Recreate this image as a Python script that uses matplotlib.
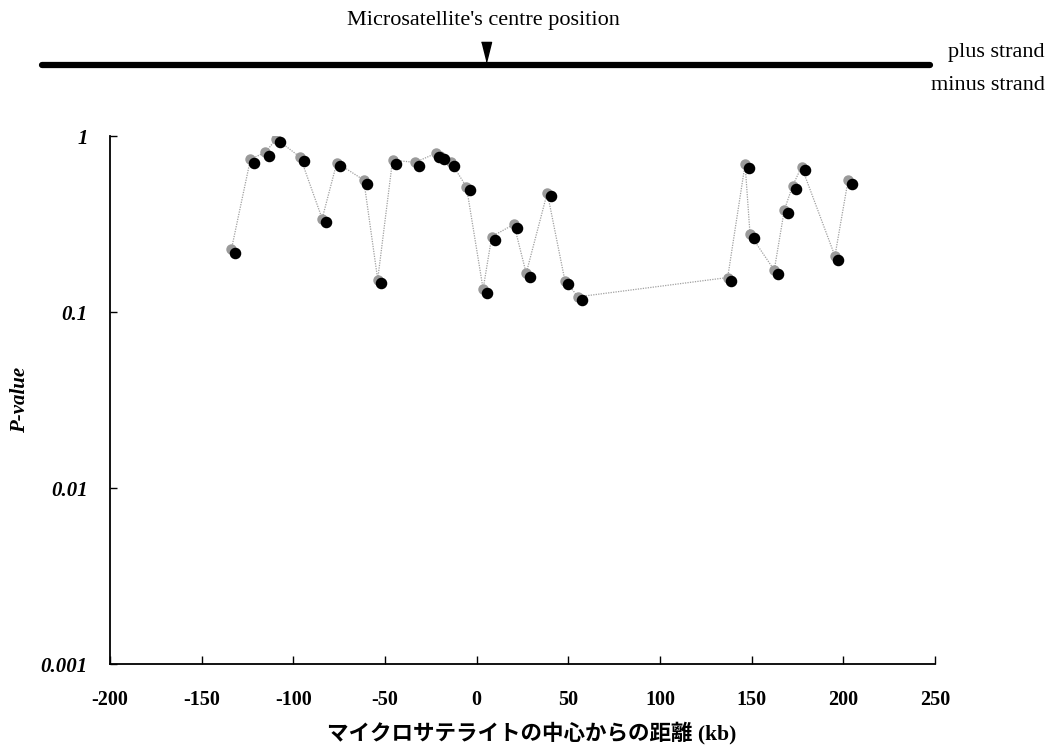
import matplotlib.pyplot as plt
import matplotlib.transforms as mtransforms
from matplotlib.lines import Line2D

# distance from microsatellite centre (kb) and P-values
distance_kb = [
    -133.8, -123.4, -115.3, -109.3, -96.2, -84.3, -76.3, -61.6, -54.0, -45.9,
    -33.5, -22.3, -19.9, -14.1, -5.6, 3.5, 8.2, 20.3, 27.0, 38.5,
    48.1, 55.3, 136.9, 146.4, 149.1, 162.3, 167.8, 172.3, 177.2, 195.4, 202.6
]
p_values = [
    0.227, 0.738, 0.808, 0.962, 0.757, 0.339, 0.705, 0.562, 0.153, 0.728,
    0.709, 0.797, 0.770, 0.709, 0.515, 0.135, 0.268, 0.315, 0.166, 0.476,
    0.151, 0.122, 0.157, 0.691, 0.276, 0.173, 0.380, 0.520, 0.669, 0.208, 0.562
]
x_ticks = [-200, -150, -100, -50, 0, 50, 100, 150, 200, 250]
y_ticks = [0.001, 0.01, 0.1, 1]
y_tick_labels = ["0.001", "0.01", "0.1", "1"]
centre_kb = 5

serif = "Liberation Serif"

fig = plt.figure(figsize=(10.5, 7.51), dpi=100)
ax = fig.add_axes([0.1048, 0.1158, 0.7857, 0.7031])

# thin dotted connecting line with grey markers
ax.plot(distance_kb, p_values, color="#a0a0a0", lw=0.9, ls=(0, (1, 1)),
        marker="o", ms=6.5, mfc="#9a9a9a", mec="#9a9a9a", zorder=2)
# black "shadow" markers slightly down-right
shadow = mtransforms.offset_copy(ax.transData, fig=fig, x=2.5, y=-2.5, units="points")
ax.plot(distance_kb, p_values, ls="none", marker="o", ms=7.3, mfc="black",
        mec="black", transform=shadow, zorder=3)

ax.set_yscale("log")
ax.set_ylim(0.001, 1)
ax.set_xlim(-200, 250)
ax.set_xticks(x_ticks)
ax.set_xticklabels([str(t) for t in x_ticks], fontfamily=serif,
                   fontweight="bold", fontsize=14.5)
ax.set_yticks(y_ticks)
ax.set_yticklabels(y_tick_labels, fontfamily=serif, fontweight="bold",
                   fontstyle="italic", fontsize=15)
ax.yaxis.set_minor_locator(plt.NullLocator())
ax.tick_params(axis="x", direction="in", length=6, width=1, pad=19)
ax.tick_params(axis="y", direction="in", length=5, width=1, pad=16)
for s in ["top", "right"]:
    ax.spines[s].set_visible(False)
for s in ["left", "bottom"]:
    ax.spines[s].set_linewidth(1.3)

fig.text(20 / 1050, 0.4674, "P-value", fontfamily=serif, fontweight="bold",
         fontstyle="italic", fontsize=15, rotation=90, ha="center", va="center")
fig.text(532 / 1050, 1 - 733 / 751, "マイクロサテライトの中心からの距離 (kb)",
         family=[serif, "Noto Sans CJK JP"], fontweight="bold",
         fontsize=15.5, ha="center", va="center")

# strand diagram on top
fig.add_artist(Line2D([42 / 1050, 930 / 1050], [1 - 65 / 751, 1 - 65 / 751],
                      color="black", lw=4.5, solid_capstyle="round"))
tri = mtransforms.blended_transform_factory(ax.transData, fig.transFigure)
ax.plot([centre_kb], [1 - 52 / 751], marker=[(-1, 2), (1, 2), (0, -2)], ms=14.5,
        color="black", transform=tri, clip_on=False)
fig.text(483 / 1050, 1 - 20 / 751, "Microsatellite's centre position",
         fontfamily=serif, fontsize=16, ha="center", va="center")
fig.text(1045 / 1050, 1 - 53 / 751, "plus strand", fontfamily=serif,
         fontsize=16, ha="right", va="center")
fig.text(1045 / 1050, 1 - 85 / 751, "minus strand", fontfamily=serif,
         fontsize=16, ha="right", va="center")

fig.savefig("out.png", dpi=100)
